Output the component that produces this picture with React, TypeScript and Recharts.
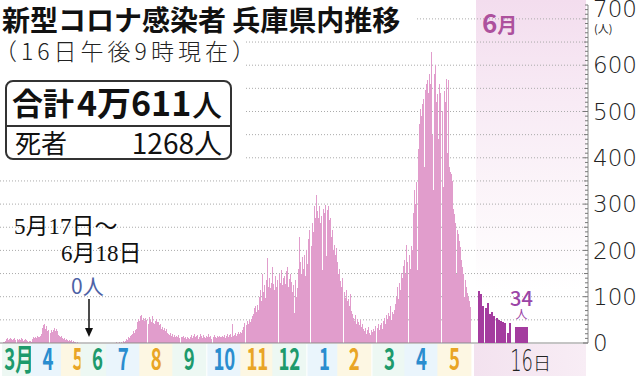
import React from 'react';
import { BarChart, Bar, XAxis, YAxis, CartesianGrid } from 'recharts';

// ---------- data (daily new cases, Hyogo) ----------
const mar20 = [0,0,1,2,3,5,8,10,7,9,11,8,6,9,10,7,8,6,9,7,10,8,5,6,9,7,4,3,5,4,2];
const apr20 = [8,12,10,14,11,15,13,12,16,20,33,38,42,30,36,25,28,22,27,24,29,32,26,30,25,18,15,12,16,11];
const may20 = [9,10,7,8,6,5,7,4,6,3,4,2,3,1,2,1,0,0,0,0,0,0,0,0,0,0,0,0,0,0,0];
const jun20 = [0,0,0,0,0,0,0,0,0,0,0,0,0,0,0,0,0,0,1,0,2,1,0,3,1,2,0,4,2,5];
const jul20 = [8,6,12,10,15,18,20,25,22,28,30,45,52,48,58,61,50,55,47,53,49,42,56,50,45,58,44,40,48,52,46];
const aug20 = [45,38,42,30,35,28,33,25,30,22,20,18,22,15,19,14,17,12,16,13,18,11,14,12,15,10,13,9,14,11,8];
const sep20 = [14,18,10,15,19,12,16,17,9,13,20,15,11,18,14,10,16,13,19,12,15,9,14,17,13,10,16,12,15,14];
const oct20 = [12,16,14,18,11,15,19,13,17,20,14,42,15,18,22,16,20,24,19,23,21,28,35,44,38,48,42,50,45,52,58];
const nov20 = [62,75,80,68,83,72,100,115,90,148,110,125,98,135,184,120,140,118,130,165,128,115,144,122,135,150,130,158,125,140];
const dec20 = [145,128,155,164,120,138,150,132,110,125,65,137,100,118,160,230,175,150,185,160,190,145,200,170,225,245,210,260,240,295,270];
const jan21 = [320,285,270,295,260,275,158,290,280,298,187,288,295,265,270,230,245,200,212,190,205,175,150,160,133,120,140,110,98,115,90];
const feb21 = [95,80,105,70,62,55,48,60,40,52,45,38,50,35,42,30,25,33,20,28,35,22,18,27,24,30,26,36];
const mar21 = [32,40,28,38,44,30,48,55,42,60,52,65,58,79,50,68,62,72,85,100,120,95,130,115,151,140,166,180,150,212,175];
const apr21 = [190,160,210,200,280,330,300,348,157,420,474,505,490,517,528,380,546,560,567,540,580,560,629,450,330,580,600,520,538,440];
const may21 = [560,540,500,337,545,520,570,410,567,380,370,366,350,290,279,260,150,243,236,220,207,180,164,150,100,135,120,107,100,90,78];

const juneDays = [1,2,3,4,5,6,7,8,9,10,11,12,13,14,15,16];
const juneCases = [112,106,80,76,86,62,66,58,55,50,47,45,43,22,44,34];

const monthLabels = ['3月','4','5','6','7','8','9','10','11','12','1','2','3','4','5'];
const monthTickDays = [18,46,75,94,119,151,183,217,249,280,314,343,377,408,440];
const monthColors = ['#1d9a6c', '#2a8dcf', '#e9a526'];
const monthTints = ['#edf8f3', '#eaf5fc', '#fdf7e3'];

const yTickValues = [0,10,20,30,40,50,60,70,80,90,100,110,120,130,140,150,160,170,180,190,200,210,220,230,240,250,260,270,280,290,300,310,320,330,340,350,360,370,380,390,400,410,420,430,440,450,460,470,480,490,500,510,520,530,540,550,560,570,580,590,600,610,620,630,640,650,660,670,680,690,700,710,720,730];
const gridValues = [50,100,150,200,250,300,350,400,450,500,550,600,650,700];

const dailyCases = [mar20, apr20, may20, jun20, jul20, aug20, sep20, oct20, nov20, dec20, jan21, feb21, mar21, apr21, may21].flat();
const mainData = dailyCases.map((v, i) => ({ d: i, cases: v }));
const juneData = juneDays.map((day, i) => ({ day, cases: juneCases[i] }));

// ---------- layout ----------
const W = 640, H = 376;
const MARGIN = { top: 5, right: 0, bottom: 0, left: 0 };
const X_AXIS_H = 33;
const Y_AXIS_W = 52;
const Y_DOMAIN: [number, number] = [0, 730];
const MAIN_PINK = '#e19dcc';
const JUNE_PURPLE = '#a43c9f';
const LABEL_PURPLE = '#9b45a6';
const HL_SHIFT = 9.5;
const HL_W = 13;
const JP = '"Noto Sans CJK JP", "Noto Sans", sans-serif';

const CrispBar = (props: any) => {
  const { x, y, width, height, fill } = props;
  if (!height || height <= 0) return null;
  return <rect x={x} y={y} width={width} height={height} fill={fill} shapeRendering="crispEdges" />;
};

const JuneBar = (props: any) => {
  const { x, y, width, height, fill, payload } = props;
  if (!height || height <= 0) return null;
  if (payload && payload.day === juneDays[juneDays.length - 1]) {
    const cx = x + width / 2 + HL_SHIFT;
    return (
      <g>
        <rect x={cx - HL_W / 2} y={y} width={HL_W} height={height} fill={fill} shapeRendering="crispEdges" />
        <text x={cx} y={y - 21} textAnchor="middle" fontSize={20} fontWeight={500} fill={LABEL_PURPLE} fontFamily={JP}>{payload.cases}</text>
        <text x={cx} y={y - 8} textAnchor="middle" fontSize={12} fill={LABEL_PURPLE} fontFamily={JP}>人</text>
      </g>
    );
  }
  return <rect x={x} y={y} width={width} height={height} fill={fill} shapeRendering="crispEdges" />;
};

const MonthTick = (props: any) => {
  const { x, y, payload } = props;
  const i = monthTickDays.indexOf(payload.value);
  if (i < 0) return null;
  const c = monthColors[i % 3];
  return (
    <g>
      <rect x={x - 17} y={y + 1} width={34} height={32} fill={monthTints[i % 3]} />
      <text transform={`translate(${x},${y + 27}) scale(0.62,1)`} textAnchor="middle" fontSize={30} fontWeight={700} fill={c} fontFamily={JP}>{monthLabels[i]}</text>
    </g>
  );
};

const JuneTick = (props: any) => {
  const { x, y, payload } = props;
  const cx = x + HL_SHIFT;
  return (
    <g>
      <text transform={`translate(${cx},${y + 28}) scale(0.6,1)`} textAnchor="middle" fontSize={30} fontWeight={200} fill="#222" fontFamily="DejaVu Sans">{payload.value}</text>
      <text x={cx + 11.5} y={y + 27} fontSize={18} fontWeight={300} fill="#222" fontFamily={JP}>日</text>
    </g>
  );
};

const YTick = (props: any) => {
  const { x, y, payload } = props;
  const v = payload.value;
  const len = v % 100 === 0 ? 5 : v % 50 === 0 ? 4 : 3;
  return (
    <g>
      <line x1={x - len} x2={x} y1={y} y2={y} stroke="#777" strokeWidth={1} />
      {v % 100 === 0 && v <= 700 && (
        <text x={x + 5} y={y + (v === 700 ? -10 : 0)} dy="0.36em" fontSize={23} fontWeight={200} fill="#222" fontFamily="DejaVu Sans">{v}</text>
      )}
      {v === 700 && (
        <text x={x + 6} y={y + 14} fontSize={11} fill="#222" fontFamily={JP}>(人)</text>
      )}
    </g>
  );
};

const abs = (extra: React.CSSProperties): React.CSSProperties => ({ position: 'absolute', ...extra });

export default function App() {
  return (
    <div style={{ position: 'absolute', left: 0, top: 0, width: W, height: H, background: '#fff', overflow: 'hidden' }}>
      {/* June band */}
      <div style={abs({ left: 476, top: 0, width: 110, height: 343, background: 'linear-gradient(to bottom, #f3ddee 0%, #f8ebf5 30%, #fcf6fa 60%, #ffffff 85%)' })} />
      <div style={abs({ left: 474, top: 344, width: 112, height: 32, background: 'linear-gradient(to right, #f3e2ef, #f8edf5)' })} />

      <div style={abs({ left: 0, top: 0 })}>
        <BarChart width={W} height={H} data={mainData} margin={MARGIN} barCategoryGap={0}>
          <CartesianGrid vertical={false} horizontalValues={gridValues} stroke="#aaa" strokeDasharray="1 2" />
          <XAxis dataKey="d" type="number" domain={[-0.5, 569.5]} allowDataOverflow ticks={monthTickDays} interval={0}
            tick={<MonthTick />} tickLine={false} tickSize={0} tickMargin={0} axisLine={{ stroke: '#8a8a8a' }} height={X_AXIS_H} />
          <YAxis orientation="right" width={Y_AXIS_W} domain={Y_DOMAIN} allowDataOverflow ticks={yTickValues} interval={0}
            tick={<YTick />} tickLine={false} tickSize={0} tickMargin={0} axisLine={{ stroke: '#8a8a8a' }} />
          <Bar dataKey="cases" fill={MAIN_PINK} isAnimationActive={false} shape={<CrispBar />} />
        </BarChart>
      </div>

      <div style={abs({ left: 0, top: 0 })}>
        <BarChart width={W} height={H} data={juneData} margin={MARGIN} barCategoryGap={0}>
          <XAxis dataKey="day" type="number" domain={[-216.8, 50.5]} allowDataOverflow ticks={[16]} interval={0}
            tick={<JuneTick />} tickLine={false} tickSize={0} tickMargin={0} axisLine={false} height={X_AXIS_H} />
          <YAxis orientation="right" width={Y_AXIS_W} domain={Y_DOMAIN} allowDataOverflow tick={false} tickLine={false} axisLine={false} />
          <Bar dataKey="cases" fill={JUNE_PURPLE} isAnimationActive={false} shape={<JuneBar />} />
        </BarChart>
      </div>

      {/* title block */}
      <div style={abs({ left: 0, top: 0, width: 415, height: 36, background: '#fff' })} />
      <div style={abs({ left: 0, top: 36, width: 245, height: 130, background: '#fff' })} />
      <div style={abs({ left: 2, top: 5, fontSize: 28, lineHeight: '28px', fontWeight: 700, fontFamily: JP, color: '#111', whiteSpace: 'nowrap' })}>
        新型コロナ感染者 兵庫県内推移
      </div>
      <div style={abs({ left: -6, top: 38, fontSize: 23, lineHeight: '24px', fontWeight: 300, fontFamily: JP, color: '#222', whiteSpace: 'nowrap', letterSpacing: 4 })}>
        （16日午後9時現在）
      </div>
      <div style={abs({ left: 5, top: 80, width: 227, height: 80, border: '2px solid #333', borderRadius: 8, boxSizing: 'border-box', fontFamily: JP, color: '#111' })}>
        <div style={abs({ left: 0, top: 0, width: 223, height: 43, borderBottom: '2px solid #333' })} />
        <div style={abs({ left: 5, top: 1, fontSize: 31, lineHeight: '38px', fontWeight: 700, whiteSpace: 'nowrap' })}>合計</div>
        <div style={abs({ left: 70, top: 0, fontSize: 34, lineHeight: '40px', fontWeight: 700, whiteSpace: 'nowrap' })}>4万611</div>
        <div style={abs({ left: 185, top: 3, fontSize: 30, lineHeight: '36px', fontWeight: 500, whiteSpace: 'nowrap' })}>人</div>
        <div style={abs({ left: 8, top: 45, fontSize: 26, lineHeight: '30px', fontWeight: 400, whiteSpace: 'nowrap' })}>死者</div>
        <div style={abs({ right: 8, top: 44, fontSize: 28, lineHeight: '32px', fontWeight: 400, whiteSpace: 'nowrap' })}>1268人</div>
      </div>

      {/* annotation */}
      <div style={abs({ left: 14, top: 214, fontSize: 23, lineHeight: '26px', fontFamily: '"Liberation Serif", "Noto Sans CJK JP", serif', color: '#111', whiteSpace: 'nowrap' })}>
        5月17日～
      </div>
      <div style={abs({ left: 61, top: 241, fontSize: 23, lineHeight: '26px', fontFamily: '"Liberation Serif", "Noto Sans CJK JP", serif', color: '#111', whiteSpace: 'nowrap' })}>
        6月18日
      </div>
      <div style={abs({ left: 71, top: 273, fontSize: 21, lineHeight: '24px', fontFamily: JP, color: '#4e62a6', whiteSpace: 'nowrap' })}>
        0人
      </div>
      <svg style={abs({ left: 0, top: 0 })} width={W} height={H}>
        <line x1={89} x2={89} y1={299} y2={330} stroke="#111" strokeWidth={1.5} />
        <polygon points="85,328 93,328 89,337" fill="#111" />
      </svg>

      {/* June label */}
      <div style={abs({ left: 482, top: 8, fontFamily: JP, color: '#ad519d', whiteSpace: 'nowrap', lineHeight: '28px' })}>
        <span style={{ fontSize: 26, fontWeight: 700 }}>6</span>
        <span style={{ fontSize: 20, fontWeight: 700 }}>月</span>
      </div>
    </div>
  );
}
